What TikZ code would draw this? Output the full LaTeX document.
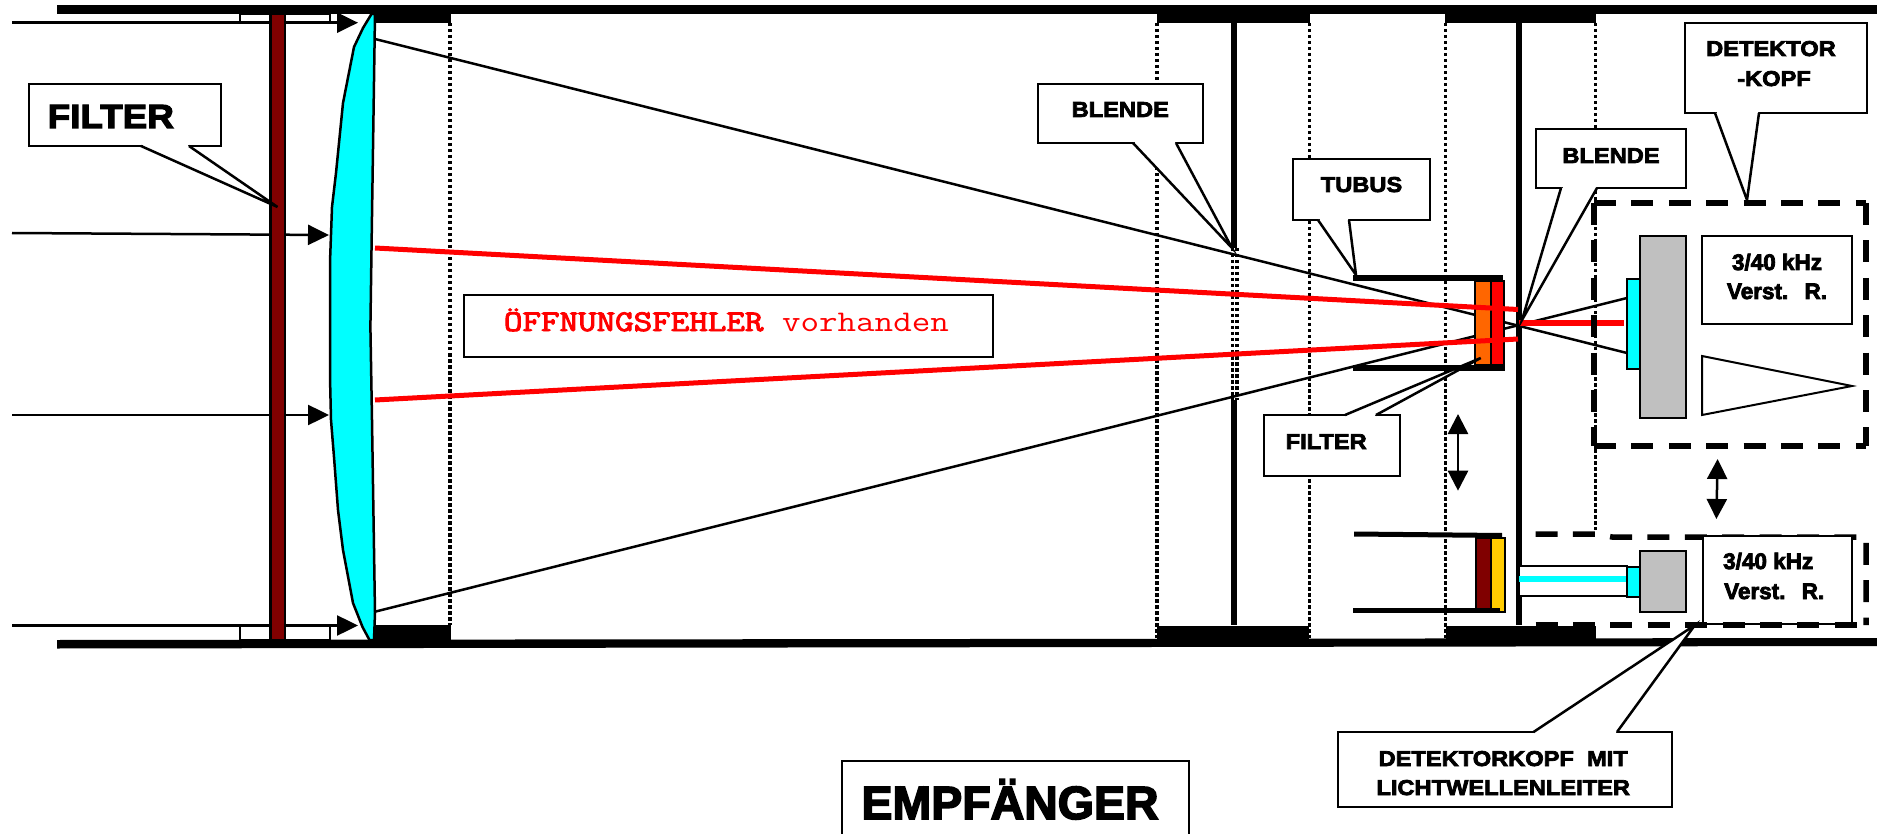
\documentclass[tikz,border=0pt]{standalone}
\usepackage{fontspec}
\usepackage{xcolor}
\definecolor{ColFilter}{RGB}{128,0,0}
\definecolor{ColLens}{RGB}{0,255,255}
\definecolor{ColOrange}{RGB}{255,102,0}
\definecolor{ColYellow}{RGB}{255,204,0}
\definecolor{ColGray}{RGB}{192,192,192}
\newfontfamily\LabelFont[BoldFeatures={FakeStretch=1.1,FakeBold=3.5}]{Liberation Sans}
\newfontfamily\PlainFont[BoldFeatures={FakeBold=3.5}]{Liberation Sans}
\newfontfamily\MonoDark[FakeBold=3]{Latin Modern Mono}
\usetikzlibrary{arrows.meta}
\tikzstyle{Box}=[rectangle,draw=black,fill=white,line width=2pt,inner sep=0pt,
align=center,font=\LabelFont\bfseries\fontsize{21.5}{30}\selectfont]
\tikzstyle{Edge}=[draw=black,line width=2.5pt]
\tikzstyle{Thin}=[draw=black,line width=2pt]
\tikzstyle{Ray}=[draw=red,line width=5pt]
\tikzstyle{Wall}=[draw=black,line width=6pt]
\tikzstyle{Dots}=[draw=black,line width=3.5pt,dash pattern=on 3.5pt off 2.5pt]
\tikzstyle{DashEdge}=[draw=black,line width=5.5pt,dash pattern=on 22pt off 15.4pt]
\tikzstyle{RayArrow}=[Edge,-{Triangle[length=21pt,width=20pt]}]
\tikzstyle{MoveArrow}=[Edge,{Triangle[length=20pt,width=20pt]}-{Triangle[length=20pt,width=20pt]}]
\newcommand{\Pointer}[3]{
    \fill[white](#1)--(#2)--(#3)--cycle;
    \draw[white,line width=3pt,shorten <=1.5pt,shorten >=1.5pt](#1)--(#3);
    \draw[Edge](#1)--(#2)--(#3);
}
\begin{document}
\begin{tikzpicture}[x=1pt,y=-1pt]
    \useasboundingbox(0,0)rectangle(1877,834);
    % housing
    \fill[black](57,5)rectangle(1877,14);
    \fill[black](57,640)--(1877,638)--(1877,646)--(57,648.5)--cycle;
    \fill[black](375,14)rectangle(451,23);
    \fill[black](1157,14)rectangle(1310,23);
    \fill[black](1445,14)rectangle(1596,23);
    \fill[black](375,625)rectangle(451,640);
    \fill[black](1157,625.5)rectangle(1309,640);
    \fill[black](1445.5,625.5)rectangle(1596,640);
    \draw[Dots](450,23)--(450,625);
    \draw[Dots](1157,23)--(1157,638);
    \draw[Dots](1309.5,23)--(1309.5,638);
    \draw[Dots](1445.5,23)--(1445.5,638);
    \draw[Dots](1595.5,23)--(1595.5,530);
    \draw[Wall](1234,23)--(1234,248);
    \draw[Dots](1232.5,248)--(1232.5,400);
    \draw[Dots](1237,248)--(1237,400);
    \draw[Wall](1234,400)--(1234,625);
    \draw[Wall](1519,23)--(1519,625);
    % incoming rays
    \draw[Thin,fill=white](240,14)rectangle(330,23);
    \draw[Thin,fill=white](240,626)rectangle(330,640);
    \coordinate(a1)at(12,22.7);
    \coordinate(b1)at(358,22.7);
    \coordinate(a2)at(12,233);
    \coordinate(b2)at(329,235);
    \coordinate(a3)at(12,415);
    \coordinate(b3)at(329,415);
    \coordinate(a4)at(12,625.5);
    \coordinate(b4)at(358,625.5);
    \draw[RayArrow](a1)--(b1);
    \draw[RayArrow](a2)--(b2);
    \draw[RayArrow](a3)--(b3);
    \draw[RayArrow](a4)--(b4);
    % filter and lens
    \draw[Thin,fill=ColFilter](270,14)rectangle(285,640);
    \draw[draw=black,line width=3pt](270,14)--(270,640);
    \draw[Edge,fill=ColLens](375,14)--(371.5,250)--(370.4,327)--(372,420)--(375,613)
        --(374,640)--(369.5,640)--(362.5,627)--(353,603)--(343,550)--(338,510)--(334,457)
        --(331,420)--(330,377)--(330,262)--(332,207)--(336,173)--(343,103)--(354,47)
        --(363,28)--(371.5,14)--cycle;
    % outer rays
    \draw[Edge](375,39)--(1627,353);
    \draw[Edge](375,611.7)--(1627,298);
    % tube
    \draw[Thin,fill=ColOrange](1475,281)rectangle(1491,365);
    \draw[Thin,fill=red](1491,281)rectangle(1504,365);
    \fill[black](1353,275)rectangle(1503,281);
    \fill[black](1353,365)rectangle(1505,371);
    \draw[Ray](375,248)--(1518,309.5);
    \draw[Ray](375,400)--(1518,339);
    \draw[Thin,fill=ColFilter](1476,538)rectangle(1491,612);
    \draw[Thin,fill=ColYellow](1491,538)rectangle(1505,612);
    \fill[black](1354,531.5)--(1502,533)--(1502,538)--(1354,536.5)--cycle;
    \fill[black](1353,608)rectangle(1500,613);
    % detector head
    \draw[Thin,fill=ColGray](1640,236)rectangle(1686,418);
    \draw[Thin,fill=ColLens](1627,279)rectangle(1640,369);
    \draw[Ray,line width=6pt](1519,322.7)--(1624,322.7);
    \node[Box,minimum width=150pt,minimum height=88pt,text height=38pt,text depth=0pt,
        font=\PlainFont\bfseries\fontsize{22.5}{29}\selectfont](amp1)at(1777,280){3/40 kHz\\Verst.\ \ \,R.};
    \draw[Thin,fill=white](1702,356)--(1852,386)--(1702,415)--cycle;
    \coordinate(tl)at(1594,203);
    \coordinate(tr)at(1866,203);
    \coordinate(bl)at(1594,446);
    \coordinate(br)at(1866,446);
    \draw[DashEdge](tl)--(tr)(tr)--(br)(tl)--(bl)(bl)--(br);
    % detector head with fibre
    \draw[DashEdge,fill=white](1535.5,534)--(1596,534)--(1612,537)--(1866,537)--(1866,625);
    \draw[Thin,fill=white](1519,566)rectangle(1627,596);
    \draw[draw=ColLens,line width=5.7pt](1519,578.7)--(1627,578.7);
    \draw[Thin,fill=ColGray](1640,551)rectangle(1686,612);
    \draw[Thin,fill=ColLens](1627.4,566.7)rectangle(1640,596.7);
    \node[Box,minimum width=149pt,minimum height=88.5pt,text height=38.3pt,text depth=0pt,
        font=\PlainFont\bfseries\fontsize{22.5}{30}\selectfont](amp2)at(1777.2,579.85){3/40 kHz\hspace*{18pt}\\Verst.\ \ \,R.\hspace*{6pt}};
    \draw[DashEdge](1535.5,625)--(1866,625);
    % arrows
    \coordinate(m1)at(1458,414);
    \coordinate(m2)at(1458,490.7);
    \coordinate(m3)at(1717.6,459);
    \coordinate(m4)at(1716.4,519);
    \draw[MoveArrow](m1)--(m2);
    \draw[MoveArrow](m3)--(m4);
    % labels
    \node[Box,minimum width=191.5pt,minimum height=62pt,text height=26pt,text depth=0pt,
        font=\LabelFont\bfseries\fontsize{33.5}{33.5}\selectfont,anchor=center](filter1)at(124.8,115){FILTER\hspace*{28pt}};
    \Pointer{141,146}{277.5,207}{189,146}
    \node[Box,minimum width=164.7pt,minimum height=58.7pt,text height=15pt,text depth=8pt](stop1)at(1120.3,113.4){BLENDE};
    \Pointer{1133,143}{1232,248}{1176,143}
    \node[Box,minimum width=137pt,minimum height=61.3pt,text height=15pt,text depth=9.8pt](tube)at(1361.5,189.4){TUBUS};
    \Pointer{1318,220}{1356,275}{1349,220}
    \node[Box,minimum width=150pt,minimum height=59pt,text height=15pt,text depth=6pt](stop2)at(1611,158.5){BLENDE};
    \Pointer{1561,188}{1522,320}{1597,188}
    \node[Box,minimum width=182pt,minimum height=90pt,text height=36pt,text depth=0pt](head)at(1776,68){DETEKTOR\hspace*{10pt}\\-KOPF\hspace*{4pt}};
    \Pointer{1715,113}{1747,200}{1759,113}
    \node[Box,minimum width=136.5pt,minimum height=61pt,text height=15pt,text depth=8pt](filter2)at(1332.2,445.5){FILTER\hspace*{12pt}};
    \Pointer{1345,415}{1480.7,358}{1376,415}
    \node[Box,minimum width=334.5pt,minimum height=74.7pt,text height=51.3pt,text depth=0pt,
        font=\LabelFont\bfseries\fontsize{21.5}{29}\selectfont](fibre)at(1505.2,769.35){DETEKTORKOPF\ \ MIT\hspace*{4pt}\\LICHTWELLENLEITER\hspace*{4pt}};
    \Pointer{1533.5,732}{1695,625}{1617,732}
    \node[Box,minimum width=529.3pt,minimum height=61.7pt,text height=18pt,text depth=8pt,text=red](error)at(728.4,326){%
        \scalebox{1.2}[1]{\fontsize{30}{30}\selectfont\MonoDark ÖFFNUNGSFEHLER\ttfamily\mdseries\ vorhanden}\hspace*{4pt}};
    \node[Box,minimum width=347pt,minimum height=79pt,text height=37pt,text depth=0pt,
        font=\PlainFont\bfseries\fontsize{46.5}{46.5}\selectfont](receiver)at(1015.5,800.5){EMPFÄNGER\hspace*{11pt}};
\end{tikzpicture}
\end{document}
